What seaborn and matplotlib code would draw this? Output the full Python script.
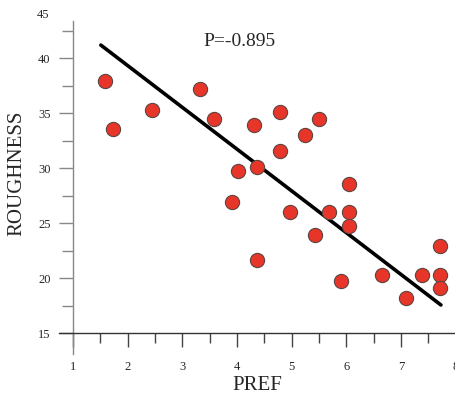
import numpy as np
import pandas as pd
import matplotlib
matplotlib.use("Agg")
import matplotlib.pyplot as plt
from matplotlib.ticker import MultipleLocator
import seaborn as sns

pref = [1.58, 1.73, 2.44, 3.32, 3.58, 4.79, 4.32, 5.50, 5.24, 4.79,
        4.37, 4.02, 6.04, 3.91, 4.97, 5.69, 6.04, 6.04, 5.43, 4.37,
        5.90, 6.65, 7.10, 7.38, 7.71, 7.71, 7.71]
roughness = [37.9, 33.6, 35.3, 37.2, 34.5, 35.1, 33.9, 34.5, 33.0, 31.6,
             30.1, 29.7, 28.6, 26.9, 26.0, 26.0, 26.0, 24.7, 23.9, 21.6,
             19.7, 20.3, 18.2, 20.3, 22.9, 20.3, 19.1]
# trend line as drawn in the source figure
fit_x = [1.51, 7.73]
fit_y = [41.2, 17.55]
corr_label = "P=-0.895"

df = pd.DataFrame({"PREF": pref, "ROUGHNESS": roughness})
fit = pd.DataFrame({"PREF": fit_x, "ROUGHNESS": fit_y})

sns.set_style("ticks")
plt.rcParams["font.family"] = ["Liberation Serif", "DejaVu Serif"]

fig = plt.figure(figsize=(4.55, 3.95), dpi=100)
ax = fig.add_axes([59.3 / 455, (395 - 354) / 395, (455.7 - 59.3) / 455, (354 - 20.7) / 395])

sns.lineplot(data=fit, x="PREF", y="ROUGHNESS", ax=ax, color="black", lw=2.6)
sns.scatterplot(data=df, x="PREF", y="ROUGHNESS", ax=ax, s=105,
                color="#e8352a", edgecolor="#5e4540", linewidth=0.8, zorder=3)

ax.set_xlim(0.75, 8.0)
ax.set_ylim(13.09, 43.42)
ax.spines["bottom"].set_position(("data", 15))
ax.spines["left"].set_position(("data", 1))
ax.spines["top"].set_visible(False)
ax.spines["right"].set_visible(False)
ax.spines["bottom"].set_color("#333333")
ax.spines["left"].set_color("#888888")
ax.spines["bottom"].set_linewidth(1.0)
ax.spines["left"].set_linewidth(1.0)

ax.set_xticks(range(1, 9))
ax.set_yticks(range(15, 45, 5))
ax.xaxis.set_minor_locator(MultipleLocator(0.5))
ax.yaxis.set_minor_locator(MultipleLocator(2.5))
ax.tick_params(axis="x", which="major", length=10, width=1, color="#444444",
               pad=10, labelsize=9)
ax.tick_params(axis="x", which="minor", length=7.5, width=1, color="#444444")
ax.tick_params(axis="y", which="major", length=10, width=1, color="#888888",
               pad=6, labelsize=9)
ax.tick_params(axis="y", which="minor", length=8, width=1, color="#888888")

ax.set_xlabel("")
ax.set_ylabel("")
fig.text(257 / 455, 1 - 385 / 395, "PREF", ha="center", va="center", fontsize=15)
fig.text(17 / 455, 1 - 173 / 395, "ROUGHNESS", ha="center", va="center",
         rotation=90, fontsize=15)
fig.text(43 / 455, 1 - 15 / 395, "45", ha="center", va="center", fontsize=9)
ax.text(3.38, 41.5, corr_label, ha="left", va="center", fontsize=14)

fig.savefig("out.png", dpi=100)
